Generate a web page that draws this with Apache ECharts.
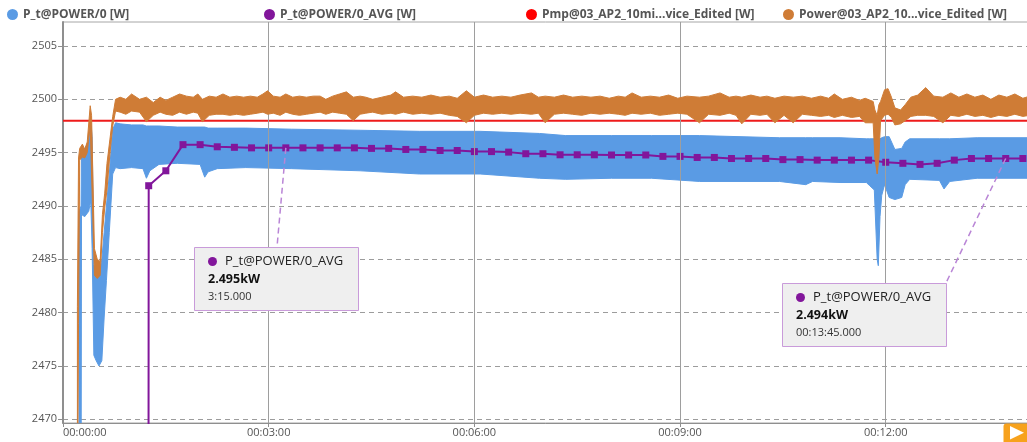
<!DOCTYPE html>
<html><head><meta charset="utf-8">
<script src="https://cdn.jsdelivr.net/npm/echarts@6/dist/echarts.min.js"></script>
<style>html,body{margin:0;padding:0;background:#fff}#c{width:1027px;height:442px}</style>
</head><body><div id="c"></div>
<script>
// ---------------- data ----------------
const seriesNames = ['P_t@POWER/0 [W]', 'P_t@POWER/0_AVG [W]', 'Pmp@03_AP2_10mi...vice_Edited [W]', 'Power@03_AP2_10...vice_Edited [W]'];
const xTickValues = [0, 180, 360, 540, 720];
const yTickValues = [2470, 2475, 2480, 2485, 2490, 2495, 2500, 2505];

// P_t@POWER/0 : band envelope (time s, low, high)
const blueT    = [14.0,15.8,16.2,19,22.5,24.3,25.5,27,29,31.5,34,36,38,40.5,43.5,46,50,60,70,73,76,84,100,120,124,127,135,160,200,260,312,365,417,440,480,515,557,627,650,656,680,703,706,710,712.5,713.5,715,716.5,719,723,728,734,737,741,767,771,776,800,846];
const blueLow  = [2460,2460,2489.2,2489.0,2489.5,2490.5,2486.0,2476.0,2475.5,2475.0,2475.5,2479.5,2483.0,2487.5,2493.0,2493.6,2493.5,2493.6,2493.5,2492.6,2493.3,2493.9,2494.0,2493.9,2492.7,2493.2,2493.5,2493.6,2493.5,2493.3,2493.0,2493.0,2492.6,2492.5,2492.6,2492.6,2492.3,2492.3,2492.0,2492.3,2492.2,2492.2,2491.9,2491.5,2485.0,2484.4,2489.0,2491.0,2492.0,2490.8,2490.6,2490.8,2492.0,2492.5,2492.4,2491.6,2492.3,2492.6,2492.6];
const blueHigh = [2489.5,2490.0,2495.0,2495.4,2496.0,2498.0,2496.5,2484.5,2484.0,2483.5,2485.0,2487.5,2490.0,2493.0,2497.2,2497.8,2497.7,2497.6,2497.6,2497.5,2497.5,2497.5,2497.4,2497.4,2497.4,2497.3,2497.3,2497.3,2497.2,2497.1,2497.0,2497.0,2496.8,2496.6,2496.6,2496.6,2496.6,2496.4,2496.4,2496.4,2496.4,2496.3,2496.3,2496.3,2496.2,2496.2,2496.3,2496.4,2496.5,2496.5,2495.3,2495.4,2496.0,2496.3,2496.3,2496.3,2496.3,2496.4,2496.4];

// P_t@POWER/0_AVG (time s, W)
const avgT = [60,75,90,105,120,135,150,165,180,195,210,225,240,255,270,285,300,315,330,345,360,375,390,405,420,435,450,465,480,495,510,525,540,555,570,585,600,615,630,645,660,675,690,705,720,735,750,765,780,795,810,825,840];
const avgV = [0,2491.9,2493.3,2495.75,2495.75,2495.55,2495.5,2495.45,2495.45,2495.45,2495.45,2495.45,2495.45,2495.45,2495.4,2495.4,2495.3,2495.3,2495.2,2495.2,2495.1,2495.1,2495.05,2494.9,2494.9,2494.8,2494.8,2494.8,2494.78,2494.78,2494.78,2494.65,2494.65,2494.55,2494.55,2494.45,2494.45,2494.45,2494.35,2494.35,2494.3,2494.3,2494.3,2494.3,2494.1,2494.0,2493.9,2494.0,2494.3,2494.45,2494.45,2494.45,2494.45];

// Pmp (constant)
const pmpT = [0, 846];
const pmpV = [2498, 2498];

// Power@03_AP2 : band envelope (time s, low, high)
const orangeT    = [12.6,13.6,14.6,17,19,21.2,23.8,25,27.5,30,32.5,34.5,36.5,38.5,41,43.5,46,50,55,60,67,73,79,85,90,96,102,108,114,118,122,128,134,140,146,152,158,164,170,175,179,184,190,195,201,207,213,219,225,230,236,242,248,254,260,265,271,279,287,291,298,306,314,322,330,338,345,353,360,368,376,384,392,400,410,416,422,430,438,446,454,462,470,478,486,492,498,506,514,522,530,538,546,557,565,575,583,589,594,602,610,616,623,631,639,647,655,663,670,675,682,690,697,702,709,710.5,712.5,714,715.5,719,722,725,728,733,737,742,748,755,762,770,777,784,791,798,805,812,819,826,833,840,846];
const orangeLow  = [2460,2479,2494.3,2494.6,2494.5,2495.0,2497.5,2493.0,2483.5,2483.2,2483.5,2487.5,2489.8,2491.5,2494.8,2497.5,2498.9,2498.8,2498.6,2498.9,2498.8,2497.9,2498.5,2498.8,2498.6,2498.5,2498.8,2498.6,2498.8,2498.7,2497.9,2498.5,2498.6,2498.6,2498.5,2498.6,2498.5,2498.6,2498.7,2498.8,2498.6,2498.7,2498.5,2498.8,2498.6,2498.5,2498.6,2498.7,2498.8,2498.6,2498.8,2498.7,2498.6,2498.0,2498.6,2498.7,2498.8,2498.6,2498.7,2498.6,2498.8,2498.6,2498.7,2498.6,2498.7,2498.5,2498.4,2497.8,2498.5,2498.7,2498.6,2498.7,2498.6,2498.7,2498.6,2498.7,2497.8,2498.6,2498.7,2498.6,2498.5,2498.7,2498.6,2498.7,2498.6,2498.5,2498.7,2498.6,2498.7,2498.5,2498.6,2498.7,2498.6,2497.8,2498.6,2498.5,2498.7,2498.5,2497.7,2498.6,2498.5,2498.6,2497.8,2498.5,2497.8,2498.6,2498.5,2498.4,2498.5,2498.3,2498.5,2498.3,2498.4,2497.8,2497.8,2494.5,2493.0,2494.5,2498.0,2498.5,2498.6,2498.3,2497.6,2497.7,2498.0,2498.4,2498.5,2498.5,2498.4,2497.8,2498.5,2498.4,2498.6,2498.4,2498.5,2498.3,2498.5,2498.4,2498.6,2498.4,2498.5];
const orangeHigh = [2480.6,2494.5,2495.4,2495.8,2495.3,2496.0,2499.4,2498.5,2486.0,2485.0,2484.8,2489.2,2491.2,2494.0,2496.2,2498.4,2500.0,2500.2,2500.0,2500.5,2500.0,2500.2,2499.7,2500.2,2499.9,2500.2,2500.5,2500.3,2500.2,2500.5,2500.0,2500.3,2500.2,2500.5,2500.2,2500.3,2500.2,2500.3,2500.2,2500.5,2500.8,2500.3,2500.2,2500.5,2500.2,2500.3,2500.2,2500.3,2500.3,2500.0,2500.3,2500.5,2500.7,2500.2,2500.3,2500.2,2500.0,2500.2,2500.4,2500.7,2500.2,2500.3,2500.2,2500.4,2500.2,2500.3,2500.1,2500.8,2500.2,2500.4,2500.2,2500.3,2500.2,2500.4,2500.6,2500.2,2500.3,2500.2,2500.4,2500.2,2500.3,2500.2,2500.3,2500.1,2500.3,2500.2,2500.6,2500.2,2500.3,2500.2,2500.4,2500.1,2500.3,2500.2,2500.3,2500.6,2500.2,2500.3,2500.2,2500.4,2500.2,2500.3,2500.1,2500.3,2500.2,2500.3,2500.1,2500.3,2500.1,2500.5,2500.0,2500.2,2499.9,2500.1,2499.8,2499.0,2498.5,2499.5,2499.8,2500.9,2501.0,2500.2,2499.2,2499.0,2499.5,2500.2,2500.4,2501.1,2500.3,2500.2,2500.6,2500.2,2500.5,2500.2,2500.4,2500.0,2500.4,2500.2,2500.5,2500.1,2500.3];

// pinned tooltips
const calloutTimes = [195, 825];
const calloutTitle = 'P_t@POWER/0_AVG';
const calloutValues = ['2.495kW', '2.494kW'];
const calloutTimeLabels = ['3:15.000', '00:13:45.000'];

// ---------------- chart ----------------
const BLUE = '#5a9be4', PURPLE = '#82169b', RED = '#ee1b1b', ORANGE = '#cf7c36';
const FONT = '"Open Sans", "Noto Sans", "DejaVu Sans", sans-serif';
const XMAX = 844.5, YMIN = 2469.653, YMAX = 2507.25;
const pair = (t, v) => t.map((x, i) => [x, v[i]]);
const pad = n => String(n).padStart(2, '0');
const fmtTime = v => { const s = Math.round(v); return pad(Math.floor(s / 3600)) + ':' + pad(Math.floor(s / 60) % 60) + ':' + pad(s % 60); };

const chart = echarts.init(document.getElementById('c'), null, { renderer: 'canvas' });
const legendLeft = [7, 264, 526, 783];
const legendColors = [BLUE, PURPLE, '#ff0000', ORANGE];

// band drawn as one polygon through the chart's own coordinate conversion
const bandSeries = (name, t, lo, hi, color, z) => ({
  type: 'custom', name: name, silent: true, z: z, clip: true,
  itemStyle: { color: color },
  encode: { x: 0, y: [1, 2] },
  data: t.map((x, i) => [x, lo[i], hi[i]]),
  renderItem: (params, api) => {
    if (params.dataIndex !== 0) return null;
    const pts = [];
    for (let i = 0; i < t.length; i++) pts.push(api.coord([t[i], hi[i]]));
    for (let i = t.length - 1; i >= 0; i--) pts.push(api.coord([t[i], lo[i]]));
    const cs = params.coordSys;
    return { type: 'polygon', shape: { points: pts }, style: { fill: color, stroke: color, lineWidth: 1, lineJoin: 'round' },
      clipPath: { type: 'rect', shape: { x: cs.x, y: cs.y, width: cs.width, height: cs.height } } };
  }
});

const option = {
  animation: false,
  grid: { left: 63, right: -1, top: 22, bottom: 19, show: true, borderColor: '#a6a6a6', borderWidth: 1, backgroundColor: 'transparent', outerBoundsMode: 'none', containLabel: false },
  xAxis: {
    type: 'value', min: 0, max: XMAX,
    axisLine: { show: true, lineStyle: { color: '#8f8f8f', width: 1 } },
    axisTick: { show: true, length: 4, customValues: xTickValues, lineStyle: { color: '#8f8f8f' } },
    axisLabel: { customValues: xTickValues, formatter: fmtTime, color: '#555', fontSize: 11, fontFamily: FONT, margin: 4, alignMinLabel: 'left' },
    splitLine: { show: false }
  },
  yAxis: {
    type: 'value', min: YMIN, max: YMAX,
    axisLine: { show: true, lineStyle: { color: '#8f8f8f', width: 2 } },
    axisTick: { show: true, length: 5, customValues: yTickValues, lineStyle: { color: '#8f8f8f' } },
    axisLabel: { customValues: yTickValues, formatter: v => String(Math.round(v)), color: '#555', fontSize: 11, fontFamily: FONT, margin: 6 },
    splitLine: { show: true, lineStyle: { color: '#9c9c9c', width: 1, type: [5, 4] } }
  },
  legend: seriesNames.map((n, i) => ({
    data: [{ name: n, itemStyle: { color: legendColors[i] } }], left: legendLeft[i], top: 8.5, padding: 0, icon: 'circle', itemWidth: 11, itemHeight: 11, selectedMode: false,
    textStyle: { color: '#555', fontSize: 12, fontWeight: 'bold', fontFamily: FONT }
  })),
  series: [
    bandSeries(seriesNames[0], blueT, blueLow, blueHigh, BLUE, 2),
    { type: 'line', name: seriesNames[1], data: pair(avgT, avgV), symbol: 'rect', symbolSize: 7, showSymbol: true, silent: true, z: 3,
      lineStyle: { color: PURPLE, width: 2 }, itemStyle: { color: PURPLE }, emphasis: { disabled: true } },
    { type: 'line', name: seriesNames[2], data: pair(pmpT, pmpV), symbol: 'none', silent: true, z: 4,
      lineStyle: { color: RED, width: 2 }, itemStyle: { color: RED }, emphasis: { disabled: true } },
    bandSeries(seriesNames[3], orangeT, orangeLow, orangeHigh, ORANGE, 5),
    { type: 'line', name: '_grid', data: [], symbol: 'none', silent: true, z: 8,
      markLine: { silent: true, symbol: 'none', label: { show: false },
        lineStyle: { color: '#9e9e9e', width: 1, type: 'solid' },
        data: xTickValues.filter(v => v > 0).map(v => ({ xAxis: v })) } }
  ]
};
chart.setOption(option);

// pinned tooltip callouts, anchored to data points via the chart scale
const boxes = [ { x: 194, y: 247, ax: 277, ay: 247 }, { x: 782, y: 283, ax: 946, ay: 283 } ];
const graphics = [];
calloutTimes.forEach((t, k) => {
  const idx = avgT.indexOf(t);
  const p = chart.convertToPixel({ gridIndex: 0 }, [avgT[idx], avgV[idx]]);
  const b = boxes[k];
  graphics.push({ type: 'line', z: 100, silent: true, shape: { x1: p[0], y1: p[1], x2: b.ax, y2: b.ay }, style: { stroke: '#b985d6', lineWidth: 1.5, lineDash: [6, 4] } });
  graphics.push({ type: 'rect', z: 101, silent: true, shape: { x: b.x + 0.5, y: b.y + 0.5, width: 164, height: 63 }, style: { fill: '#efefef', stroke: '#c99bda', lineWidth: 1 } });
  graphics.push({ type: 'circle', z: 102, silent: true, shape: { cx: b.x + 18.5, cy: b.y + 14.5, r: 4.5 }, style: { fill: PURPLE } });
  graphics.push({ type: 'text', z: 102, silent: true, x: b.x + 31, y: b.y + 14.5, style: { text: calloutTitle, fill: '#222', font: '13px ' + FONT, verticalAlign: 'middle' } });
  graphics.push({ type: 'text', z: 102, silent: true, x: b.x + 14, y: b.y + 32.5, style: { text: calloutValues[k], fill: '#111', font: 'bold 12.5px ' + FONT, verticalAlign: 'middle' } });
  graphics.push({ type: 'text', z: 102, silent: true, x: b.x + 14, y: b.y + 50, style: { text: calloutTimeLabels[k], fill: '#333', font: '11px ' + FONT, verticalAlign: 'middle' } });
});
// play button (bottom right)
graphics.push({ type: 'rect', z: 110, silent: true, shape: { x: 1003.5, y: 423.5, width: 30, height: 22, r: 3 }, style: { fill: '#f7a21d' } });
graphics.push({ type: 'polygon', z: 111, silent: true, shape: { points: [[1010, 426], [1010, 439.5], [1024, 432.7]] }, style: { fill: '#ffffff' } });
chart.setOption({ graphic: graphics });
</script>
</body></html>
